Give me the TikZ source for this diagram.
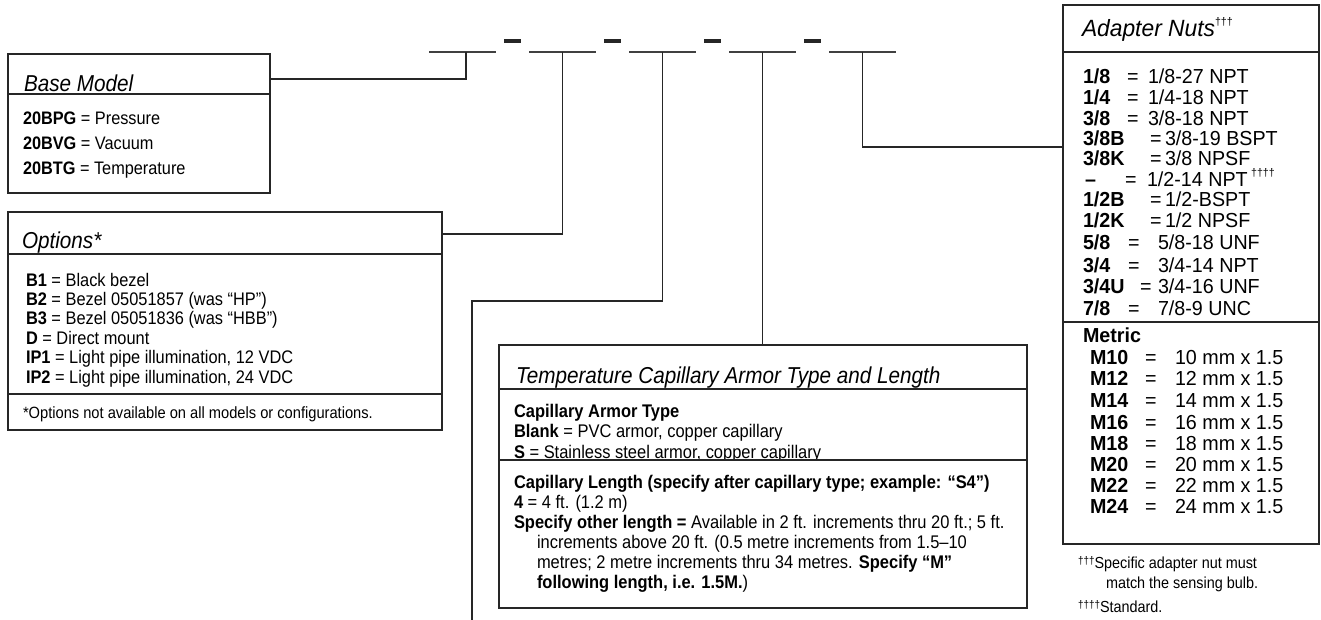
\documentclass[tikz,border=0pt]{standalone}
\usepackage{fontspec}
\setmainfont{Liberation Sans}
\newfontfamily\fa{Liberation Sans}[FakeStretch=0.9]
\newfontfamily\fc{Liberation Sans}[FakeStretch=0.97]
\newcommand\ftitle{\fa\itshape\fontsize{23}{23}\selectfont}
\newcommand\fbody{\fa\fontsize{18.1}{19}\selectfont}
\newcommand\obody{\fa\fontsize{18.2}{19}\selectfont}
\newcommand\ffoot{\fa\fontsize{16.3}{17}\selectfont}
\newcommand\tbody{\fa\fontsize{18.3}{18}\selectfont}
\newcommand\atitle{\fc\itshape\fontsize{23.5}{24}\selectfont}
\newcommand\abody{\fc\fontsize{20.3}{20}\selectfont}
\newcommand\afoot{\fa\fontsize{16}{16}\selectfont}
\newcommand\sdag[2]{\raisebox{#1}{\fontsize{11}{11}\selectfont #2}}
\newcommand\adrow[7]{%
 \node[txt,font=\abody\bfseries] (#1c) at (#3,#2) {#4};
 \node[txt,font=\abody] (#1e) at (#5,#2) {=};
 \node[txt,font=\abody] (#1v) at (#6,#2) {#7};}
\tikzset{
 box/.style={draw=black!85, line width=2pt, rectangle, inner sep=0pt, outer sep=0pt, anchor=north west},
 hline/.style={draw=black!85, line width=2pt},
 conn/.style={draw=black!85, line width=1.6pt},
 blank/.style={draw=none, rectangle, inner sep=0pt, outer sep=0pt, minimum width=67pt, minimum height=0pt},
 blankline/.style={draw=black!75, line width=1.1pt},
 dashmark/.style={fill=black!85, rectangle, inner sep=0pt, outer sep=0pt, minimum width=17pt, minimum height=3.5pt},
 txt/.style={anchor=base west, inner sep=0pt, outer sep=0pt},
}
\begin{document}
\begin{tikzpicture}[x=1pt,y=-1pt]
\useasboundingbox[fill=white] (0,0) rectangle (1321,620);

% ---- code blanks and dashes
\node[blank] (b1) at (462.5,52) {};
\node[blank] (b2) at (562.5,52) {};
\node[blank] (b3) at (662.5,52) {};
\node[blank] (b4) at (762.5,52) {};
\node[blank] (b5) at (862.5,52) {};
\foreach \b in {b1,b2,b3,b4,b5} \draw[blankline] (\b.west) -- (\b.east);
\node[dashmark] (d1) at (512,41) {};
\node[dashmark] (d2) at (612,41) {};
\node[dashmark] (d3) at (712,41) {};
\node[dashmark] (d4) at (812,41) {};

% ---- boxes
\node[box, minimum width=262pt, minimum height=139pt] (base) at (8,54) {};
\node[box, minimum width=434pt, minimum height=218pt] (opt) at (8,212) {};
\node[box, minimum width=528pt, minimum height=263pt] (temp) at (499,345) {};
\node[box, minimum width=256pt, minimum height=539pt] (ad) at (1063,5) {};

% ---- Base Model
\draw[hline] (base.west |- 0,94) -- (base.east |- 0,94);
\node[txt,font=\ftitle] (baseT) at (24,92) {Base Model};
\node[txt,font=\fbody] (base1) at (23,125) {\textbf{20BPG} = Pressure};
\node[txt,font=\fbody] (base2) at (23,150) {\textbf{20BVG} = Vacuum};
\node[txt,font=\fbody] (base3) at (23,175) {\textbf{20BTG} = Temperature};

% ---- Options
\draw[hline] (opt.west |- 0,254) -- (opt.east |- 0,254);
\draw[hline] (opt.west |- 0,394) -- (opt.east |- 0,394);
\node[txt,font=\ftitle] (optT) at (22,248) {Options*};
\node[txt,font=\obody] (opt1) at (26,286) {\textbf{B1} = Black bezel};
\node[txt,font=\obody] (opt2) at (26,305.4) {\textbf{B2} = Bezel 05051857 (was “HP”)};
\node[txt,font=\obody] (opt3) at (26,324.8) {\textbf{B3} = Bezel 05051836 (was “HBB”)};
\node[txt,font=\obody] (opt4) at (26,344.2) {\textbf{D} = Direct mount};
\node[txt,font=\obody] (opt5) at (26,363.6) {\textbf{IP1} = Light pipe illumination, 12 VDC};
\node[txt,font=\obody] (opt6) at (26,383) {\textbf{IP2} = Light pipe illumination, 24 VDC};
\node[txt,font=\ffoot] (optF) at (23,418) {*Options not available on all models or configurations.};

% ---- Temperature
\draw[hline] (temp.west |- 0,389) -- (temp.east |- 0,389);
\node[txt,font=\ftitle] (tempT) at (516,383) {Temperature Capillary Armor Type and Length};
\node[txt,font=\tbody] (temp1) at (514,417) {\textbf{Capillary Armor Type}};
\node[txt,font=\tbody] (temp2) at (514,437) {\textbf{Blank} = PVC armor, copper capillary};
\node[txt,font=\tbody] (temp3) at (514,458.5) {\textbf{S} = Stainless steel armor, copper capillary};
\fill[white] (501,461) rectangle (1025,606);
\draw[hline] (temp.west |- 0,460) -- (temp.east |- 0,460);
\node[txt,font=\tbody] (temp4) at (514,488) {\textbf{Capillary Length (specify after capillary type; example: “S4”)}};
\node[txt,font=\tbody] (temp5) at (514,508) {\textbf{4} = 4 ft. (1.2 m)};
\node[txt,font=\tbody] (temp6) at (514,528) {\textbf{Specify other length =} Available in 2 ft. increments thru 20 ft.; 5 ft.};
\node[txt,font=\tbody] (temp7) at (537,548) {increments above 20 ft. (0.5 metre increments from 1.5–10};
\node[txt,font=\tbody] (temp8) at (537,568) {metres; 2 metre increments thru 34 metres. \textbf{Specify “M”}};
\node[txt,font=\tbody] (temp9) at (537,588) {\textbf{following length, i.e. 1.5M.})};

% ---- Adapter Nuts
\draw[hline] (ad.west |- 0,52) -- (ad.east |- 0,52);
\draw[hline] (ad.west |- 0,322) -- (ad.east |- 0,322);
\node[txt,font=\atitle] (adT) at (1082,37) {Adapter Nuts\sdag{11pt}{\upshape †††}};
\adrow{r1}{84}{1083}{1/8}{1127}{1148}{1/8-27 NPT}
\adrow{r2}{105}{1083}{1/4}{1127}{1148}{1/4-18 NPT}
\adrow{r3}{126}{1083}{3/8}{1127}{1148}{3/8-18 NPT}
\adrow{r4}{146}{1083}{3/8B}{1150}{1165}{3/8-19 BSPT}
\adrow{r5}{166}{1083}{3/8K}{1150}{1165}{3/8 NPSF}
\adrow{r6}{187}{1085}{–}{1125}{1147}{1/2-14 NPT\,\sdag{10pt}{††††}}
\adrow{r7}{207}{1083}{1/2B}{1150}{1165}{1/2-BSPT}
\adrow{r8}{228}{1083}{1/2K}{1150}{1165}{1/2 NPSF}
\adrow{r9}{250}{1083}{5/8}{1128}{1158}{5/8-18 UNF}
\adrow{r10}{272}{1083}{3/4}{1128}{1158}{3/4-14 NPT}
\adrow{r11}{293}{1083}{3/4U}{1140}{1158}{3/4-16 UNF}
\adrow{r12}{315}{1083}{7/8}{1128}{1158}{7/8-9 UNC}
\node[txt,font=\abody\bfseries] (metric) at (1083,342) {Metric};
\adrow{m1}{364}{1090}{M10}{1145}{1175}{10 mm x 1.5}
\adrow{m2}{385}{1090}{M12}{1145}{1175}{12 mm x 1.5}
\adrow{m3}{407}{1090}{M14}{1145}{1175}{14 mm x 1.5}
\adrow{m4}{429}{1090}{M16}{1145}{1175}{16 mm x 1.5}
\adrow{m5}{450}{1090}{M18}{1145}{1175}{18 mm x 1.5}
\adrow{m6}{471}{1090}{M20}{1145}{1175}{20 mm x 1.5}
\adrow{m7}{492}{1090}{M22}{1145}{1175}{22 mm x 1.5}
\adrow{m8}{513}{1090}{M24}{1145}{1175}{24 mm x 1.5}
\node[txt,font=\afoot] (adF1) at (1078,568) {\sdag{4pt}{†††}Specific adapter nut must};
\node[txt,font=\afoot] (adF2) at (1106,588) {match the sensing bulb.};
\node[txt,font=\afoot] (adF3) at (1078,612) {\sdag{4pt}{††††}Standard.};

% ---- connectors
\coordinate (k3) at (472,301);
\coordinate (freeend) at (472,620);
\draw[conn] ([xshift=3.5pt]b1.center) |- ([yshift=44.5pt]base.east);
\draw[conn] (b2.center) |- ([yshift=87pt]opt.east);
\draw[conn] (b3.center) |- (k3) -- (freeend);
\draw[conn] (b4.center) -- (b4.center |- temp.north);
\draw[conn] (b5.center) |- ([yshift=127.5pt]ad.west);
\end{tikzpicture}
\end{document}
